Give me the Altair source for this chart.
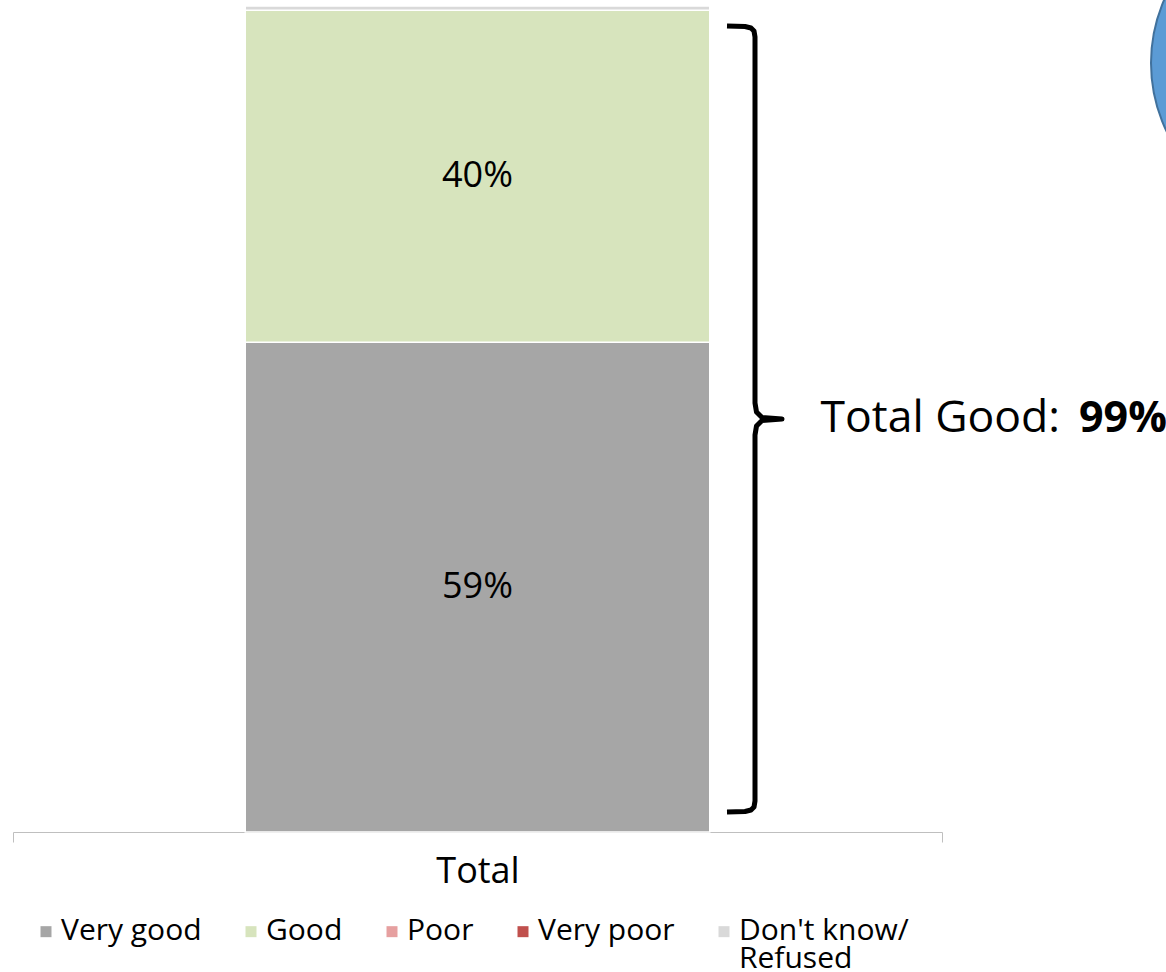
import altair as alt
import pandas as pd

# ---- data ----
groups = ["Total", "Total", "Total", "Total", "Total"]
categories = ["Very good", "Good", "Poor", "Very poor", "Don't know/Refused"]
values = [59.3, 40.2, 0.0, 0.0, 0.5]
labels = ["59%", "40%", "", "", ""]
colors = ["#A6A6A6", "#D7E4BD", "#E6A0A0", "#C0504D", "#D9D9D9"]
total_good_text = "Total Good:"
total_good_value = "99%"

# curly brace annotation path (pixel coordinates in the plot area)
brace_x = [714, 732, 738, 741, 742, 742, 743.5, 749, 769, 749, 743.5, 742, 742, 741, 738, 732, 714]
brace_y = [20, 20.5, 22, 25, 31, 397, 406, 411.5, 413, 414.5, 420, 429, 795, 801, 804, 805.5, 806]

df = pd.DataFrame({
    "group": groups,
    "category": categories,
    "value": values,
    "label": labels,
    "order": list(range(len(categories))),
})
brace_df = pd.DataFrame({"bx": brace_x, "by": brace_y, "i": list(range(len(brace_x)))})

FONT = "Open Sans"

xscale = alt.Scale(paddingInner=0, paddingOuter=0)
yscale = alt.Scale(domain=[0, 100])

bars = alt.Chart(df).mark_bar(stroke="white", strokeWidth=1.5, width=alt.RelativeBandSize(0.5)).encode(
    x=alt.X("group:N", title=None, scale=xscale,
            axis=alt.Axis(labelFont=FONT, labelFontSize=36, labelColor="black", labelAngle=0,
                          domainColor="#BFBFBF", tickColor="#BFBFBF", tickSize=10,
                          tickBand="extent", labelPadding=12, grid=False)),
    y=alt.Y("value:Q", stack="zero", scale=yscale, axis=None),
    color=alt.Color("category:N", scale=alt.Scale(domain=categories, range=colors),
                    legend=alt.Legend(
                        title=None, orient="none", legendX=18, legendY=895,
                        direction="horizontal", labelFont=FONT, labelFontSize=30,
                        labelColor="black", symbolType="M-1,1.85H1V3.85H-1Z", symbolSize=121,
                        symbolStrokeWidth=0, labelOffset=0, columnPadding=34,
                        labelBaseline="top", labelLimit=400, padding=0,
                        labelExpr='indexof(datum.label, "Refused") >= 0 ? ["Don\'t know/", "Refused"] : [datum.label, ""]')),
    order=alt.Order("order:Q"),
)

text = alt.Chart(df).transform_stack(
    stack="value", groupby=["group"], sort=[alt.SortField("order")], as_=["v0", "v1"]
).transform_calculate(
    mid="(datum.v0 + datum.v1) / 2"
).transform_filter(
    "datum.label != ''"
).mark_text(font=FONT, fontSize=36, color="black").encode(
    x=alt.X("group:N", scale=xscale, axis=None),
    y=alt.Y("mid:Q", scale=yscale, axis=None),
    text="label:N",
)

brace = alt.Chart(brace_df).mark_line(color="black", strokeWidth=5, strokeJoin="round").encode(
    x=alt.X("bx:Q", scale=None, axis=None),
    y=alt.Y("by:Q", scale=None, axis=None),
    order="i:Q",
)

ann = alt.Chart(alt.Data(values=[{}]))
tg = ann.mark_text(text=total_good_text, font=FONT, fontSize=44.5, align="right",
                   baseline="alphabetic", color="black").encode(
    x=alt.value(1047), y=alt.value(426))
tv = ann.mark_text(text=total_good_value, font=FONT, fontSize=43, fontWeight="bold", align="left",
                   baseline="alphabetic", color="black").encode(
    x=alt.value(1066), y=alt.value(426))

circle = ann.mark_point(shape="circle", filled=True, fill="#5B9BD5", stroke="#41719C",
                        strokeWidth=2, size=99856, opacity=1).encode(
    x=alt.value(1296), y=alt.value(57))

chart = alt.layer(bars, text, brace, tg, tv, circle).resolve_scale(
    x="independent", y="independent"
).properties(
    width=929, height=826,
    autosize="none",
    padding={"left": 13, "top": 6, "right": 224, "bottom": 140},
    background="white",
).configure(
    style={"guide-label": {"lineHeight": 28}}
).configure_view(stroke=None)

chart.save("out.html", embed_options={"renderer": "svg", "actions": False})
